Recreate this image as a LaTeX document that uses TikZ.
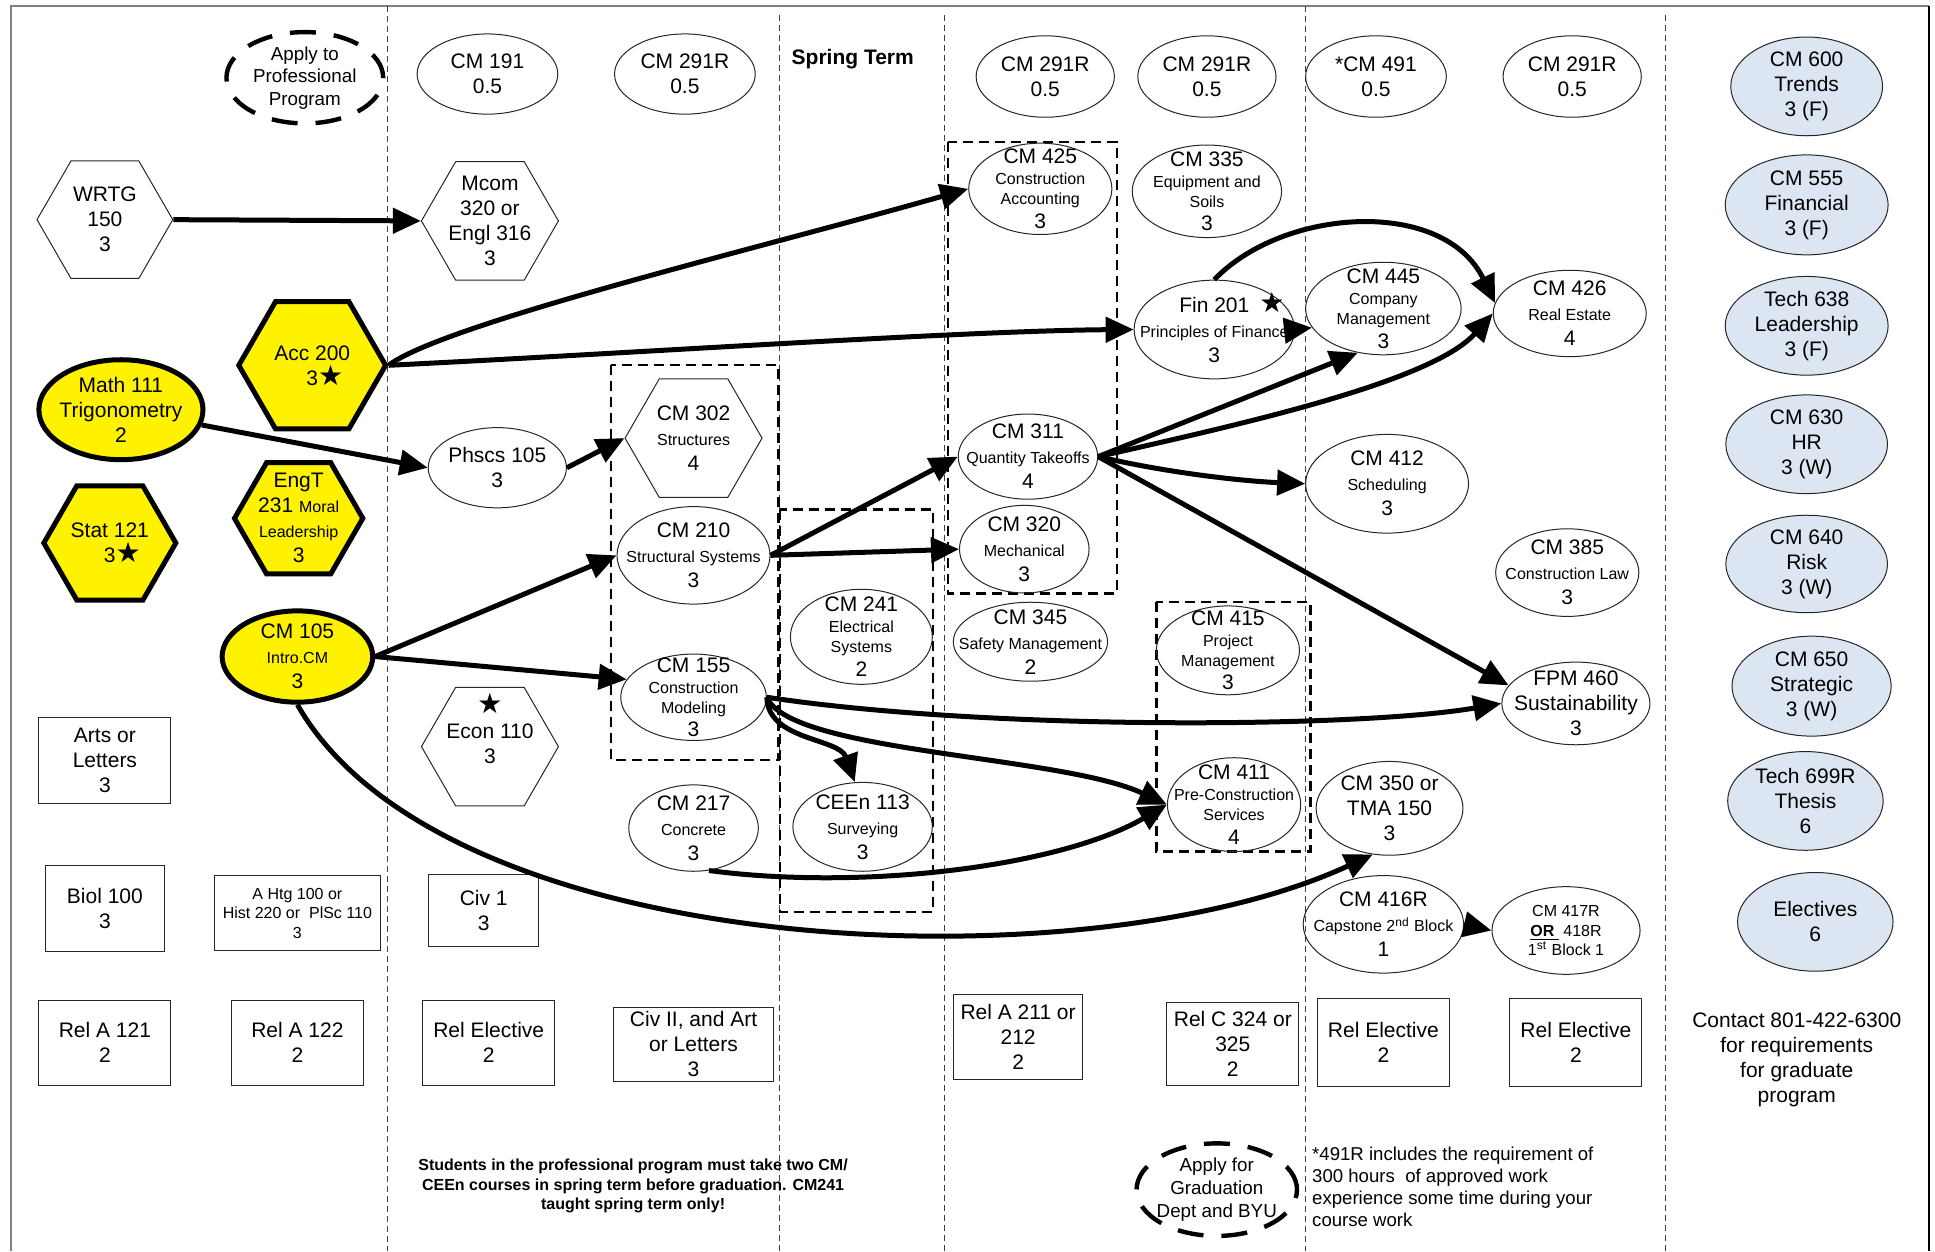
\documentclass[tikz,border=0pt]{standalone}
\usepackage{fontspec}
\setmainfont{Liberation Sans}
\newfontfamily\symfont{DejaVu Sans}
\usetikzlibrary{shapes.geometric, arrows.meta}
\definecolor{gradblue}{HTML}{DCE6F2}
\newcommand{\nf}{\fontsize{10.5}{12.5}\selectfont}
\newcommand{\sm}{\fontsize{8}{9.8}\selectfont}
\newcommand{\crsstar}{\smash{\symfont\fontsize{14}{14}\selectfont ★}}

\begin{document}
\begin{tikzpicture}[x=0.617pt, y=-0.617pt,
  every node/.style={align=center, font=\nf},
  crs/.style 2 args={ellipse, draw=black!85, line width=0.5pt, inner sep=-40pt,
    minimum width={#1*0.617pt}, minimum height={#2*0.617pt}},
  rbox/.style 2 args={rectangle, draw=black!85, line width=0.5pt, inner sep=-40pt,
    minimum width={#1*0.617pt}, minimum height={#2*0.617pt}},
  hexa/.style={regular polygon, regular polygon sides=6, draw=black!85, line width=0.5pt,
    inner sep=-4pt, minimum size={#1*0.617pt}},
  ylw/.style={fill=yellow, draw=black, line width=2.5pt},
  blu/.style={fill=gradblue, draw=black!85},
  applyoval/.style 2 args={ellipse, draw=black, line width=2.2pt, dash pattern=on 13pt off 9pt,
    inner sep=-40pt, minimum width={#1*0.617pt}, minimum height={#2*0.617pt},
    font=\fontsize{9.4}{11.3}\selectfont},
  grp/.style={draw=black, line width=1.2pt, dash pattern=on 5pt off 3pt},
  divider/.style={draw=black!75, line width=0.5pt, dash pattern=on 3pt off 2pt},
  arr/.style={-{Triangle[length=14pt,width=12.5pt]}, line width=2.5pt}]
      \useasboundingbox (0,0) rectangle (1568,1014);
      % frame %
      \draw[gray, line width=0.8pt] (9,1014) -- (9,5) -- (1563,5);
      \draw[line width=0.8pt] (1563,5) -- (1563,1014);
      \draw[divider] (314,5) -- (314,1014);
      \draw[divider] (632,12) -- (632,1014);
      \draw[divider] (765,12) -- (765,1014);
      \draw[divider] (1058,5) -- (1058,1014);
      \draw[divider] (1350,12) -- (1350,1014);
      % groups %
      \draw[grp] (495,296) rectangle (631,616);
      \draw[grp] (632,413) rectangle (756,739);
      \draw[grp] (768,115) rectangle (905,481);
      \draw[grp] (937,488) rectangle (1062,690);
      % nodes %
      \node[hexa=110] (wrtg) at (85,178) {WRTG\\150\\3};
      \node[crs={133}{81}, ylw] (math) at (98,332) {Math 111\\Trigonometry\\2};
      \node[hexa=107, ylw] (stat) at (89,440) {Stat 121\\3\rlap{\crsstar}};
      \node[rbox={107}{70}] (arts) at (85,616) {Arts or\\Letters\\3};
      \node[rbox={97}{70}] (biol) at (85,736) {Biol 100\\3};
      \node[rbox={107}{69}] (rela121) at (85,845) {Rel A 121\\2};

      \node[applyoval={127}{74}] (applyprof) at (247,63) {Apply to\\Professional\\Program};
      \node[hexa=119, ylw] (acc) at (253,296) {Acc 200\\3\rlap{\crsstar}};
      \node[hexa=104, ylw] (engt) at (242,420) {EngT\\231 {\sm Moral}\\\sm Leadership\\3};
      \node[crs={122}{74}, ylw] (cm105) at (241,532) {CM 105\\\sm Intro.CM\\3};
      \node[rbox={135}{61}, font=\sm] (ahtg) at (241,740) {A Htg 100 or\\Hist 220 or\ \ PlSc 110\\3};
      \node[rbox={107}{69}] (rela122) at (241,845) {Rel A 122\\2};

      \node[crs={114}{65}] (cm191) at (395,60) {CM 191\\0.5};
      \node[hexa=111] (mcom) at (397,179) {Mcom\\320 or\\Engl 316\\3};
      \node[crs={112}{65}] (phscs) at (403,379) {Phscs 105\\3};
      \node[hexa=111] (econ) at (397,605) {\crsstar\\Econ 110\\3\\[-4pt]\mbox{}};
      \node[rbox={89}{58}] (civ1) at (392,738) {Civ 1\\3};
      \node[rbox={107}{69}] (relel1) at (396,845) {Rel Elective\\2};

      \node[crs={114}{65}] (cm291a) at (555,60) {CM 291R\\0.5};
      \node[hexa=111] (cm302) at (562,355) {CM 302\\\sm Structures\\4};
      \node[crs={124}{79}] (cm210) at (562,450) {CM 210\\\sm Structural Systems\\3};
      \node[crs={118}{70}] (cm155) at (562,565) {CM 155\\[-2pt]\sm Construction\\[-2.5pt]\sm Modeling\\[-0.6pt]3};
      \node[crs={105}{70}] (cm217) at (562,671) {CM 217\\\sm Concrete\\3};
      \node[rbox={129}{60}] (civ2) at (562,846) {Civ II, and Art\\or Letters\\3};

      \node[font=\nf\bfseries] (spring) at (691,48) {Spring Term};
      \node[crs={115}{77}] (cm241) at (698,516) {CM 241\\[-2pt]\sm Electrical\\[-2.5pt]\sm Systems\\[-0.6pt]2};
      \node[crs={113}{72}] (ceen) at (699,670) {CEEn 113\\\sm Surveying\\3};
      \node[font=\fontsize{8}{9.6}\selectfont\bfseries] (springnote) at (513,961)
        {Students in the professional program must take two CM/\\CEEn courses in spring term before graduation. CM241\\taught spring term only!};

      \node[crs={112}{66}] (cm291b) at (847,62) {CM 291R\\0.5};
      \node[crs={112}{66}] (cm291c) at (978,62) {CM 291R\\0.5};
      \node[crs={116}{74}] (cm425) at (843,153) {CM 425\\[-2pt]\sm Construction\\[-2.5pt]\sm Accounting\\[-0.6pt]3};
      \node[crs={121}{75}] (cm335) at (978,155) {CM 335\\[-2pt]\sm Equipment and\\[-2.5pt]\sm Soils\\[-0.6pt]3};
      \node[crs={130}{80}] (fin201) at (984,267) {Fin 201\rlap{\hspace{5pt}\crsstar}\\\sm Principles of Finance\\3};
      \node[crs={113}{69}] (cm311) at (833,370) {CM 311\\\sm Quantity Takeoffs\\4};
      \node[crs={105}{71}] (cm320) at (830,445) {CM 320\\\sm Mechanical\\3};
      \node[crs={125}{64}] (cm345) at (835,520) {CM 345\\\sm Safety Management\\2};
      \node[crs={116}{72}] (cm415) at (995,527) {CM 415\\[-2pt]\sm Project\\[-2.5pt]\sm Management\\[-0.6pt]3};
      \node[crs={108}{76}] (cm411) at (1000,652) {CM 411\\[-2pt]\sm Pre-Construction\\[-2.5pt]\sm Services\\[-0.6pt]4};
      \node[rbox={105}{69}] (rela211) at (825,840) {Rel A 211 or\\212\\2};
      \node[rbox={107}{68}] (relc324) at (999,846) {Rel C 324 or\\325\\2};
      \node[applyoval={130}{75}] (applygrad) at (986,964) {Apply for\\Graduation\\Dept and BYU};

      \node[crs={114}{66}] (cm491) at (1115,62) {*CM 491\\0.5};
      \node[crs={112}{66}] (cm291d) at (1274,62) {CM 291R\\0.5};
      \node[crs={126}{75}] (cm445) at (1121,250) {CM 445\\[-2pt]\sm Company\\[-2.5pt]\sm Management\\[-0.6pt]3};
      \node[crs={124}{70}] (cm426) at (1272,254) {CM 426\\\sm Real Estate\\4};
      \node[crs={132}{80}] (cm412) at (1124,392) {CM 412\\\sm Scheduling\\3};
      \node[crs={116}{71}] (cm385) at (1270,464) {CM 385\\\sm Construction Law\\3};
      \node[crs={120}{67}] (fpm460) at (1277,570) {FPM 460\\Sustainability\\3};
      \node[crs={119}{76}] (cm350) at (1126,655) {CM 350 or\\TMA 150\\3};
      \node[crs={130}{79}] (cm416) at (1121,749) {CM 416R\\\sm Capstone 2\textsuperscript{nd} Block\\1};
      \node[crs={120}{71}, font=\sm] (cm417) at (1269,754) {CM 417R\\\textbf{\underline{OR\ }} 418R\\1\textsuperscript{st} Block 1};
      \node[rbox={107}{71}] (relel2) at (1121,845) {Rel Elective\\2};
      \node[rbox={107}{71}] (relel3) at (1277,845) {Rel Elective\\2};
      \node[font=\fontsize{9.3}{11.1}\selectfont, align=left, anchor=north west, inner sep=0pt] (note491) at (1063,929)
        {*491R includes the requirement of\\300 hours\ \ of approved work\\experience some time during your\\course work};

      \node[crs={123}{80}, blu] (cm600) at (1464,70) {CM 600\\Trends\\3 (F)};
      \node[crs={132}{81}, blu] (cm555) at (1464,166) {CM 555\\Financial\\3 (F)};
      \node[crs={132}{80}, blu] (tech638) at (1464,264) {Tech 638\\Leadership\\3 (F)};
      \node[crs={131}{80}, blu] (cm630) at (1464,360) {CM 630\\HR\\3 (W)};
      \node[crs={131}{79}, blu] (cm640) at (1464,457) {CM 640\\Risk\\3 (W)};
      \node[crs={129}{81}, blu] (cm650) at (1468,556) {CM 650\\Strategic\\3 (W)};
      \node[crs={126}{80}, blu] (tech699) at (1463,649) {Tech 699R\\Thesis\\6};
      \node[crs={126}{80}, blu] (elect) at (1471,747) {Electives\\6};
      \node (contact) at (1456,859) {Contact 801-422-6300\\for requirements\\for graduate\\program};
      % edges %
      \draw[arr] (wrtg.east) -- (mcom.west);
      \draw[arr] (acc.east) .. controls (360,262) and (620,200) .. (cm425.west);
      \draw[arr] (acc.east) .. controls (500,287) and (780,268) .. (fin201.west);
      \draw[arr] (math) -- (phscs.west);
      \draw[arr] (phscs.east) -- (cm302.west);
      \draw[arr] (cm105.east) -- (cm210.west);
      \draw[arr] (cm105.east) -- (cm155.165);
      \draw[arr] (cm105.south) .. controls (360,780) and (880,800) .. (cm350.250);
      \draw[arr] (cm210.east) -- (cm311.west);
      \draw[arr] (cm210.east) -- (cm320.west);
      \draw[arr] (cm155.east) .. controls (622,600) and (680,598) .. (ceen.100);
      \draw[arr] (cm155.east) .. controls (800,592) and (1100,590) .. (fpm460.west);
      \draw[arr] (cm155.east) .. controls (640,610) and (860,612) .. (cm411.west);
      \draw[arr] (cm217.290) .. controls (700,722) and (860,702) .. (cm411.west);
      \draw[arr] (fin201.east) -- (cm445.195);
      \draw[arr] (fin201.north) .. controls (1040,168) and (1170,160) .. (cm426.172);
      \draw[arr] (cm311.east) -- (cm445.240);
      \draw[arr] (cm311.east) .. controls (1000,345) and (1160,310) .. (cm426.west);
      \draw[arr] (cm311.east) .. controls (950,384) and (1010,390) .. (cm412.west);
      \draw[arr] (cm311.east) -- (fpm460.165);
      \draw[arr] (cm416.east) -- (cm417.west);
    \end{tikzpicture}
\end{document}
